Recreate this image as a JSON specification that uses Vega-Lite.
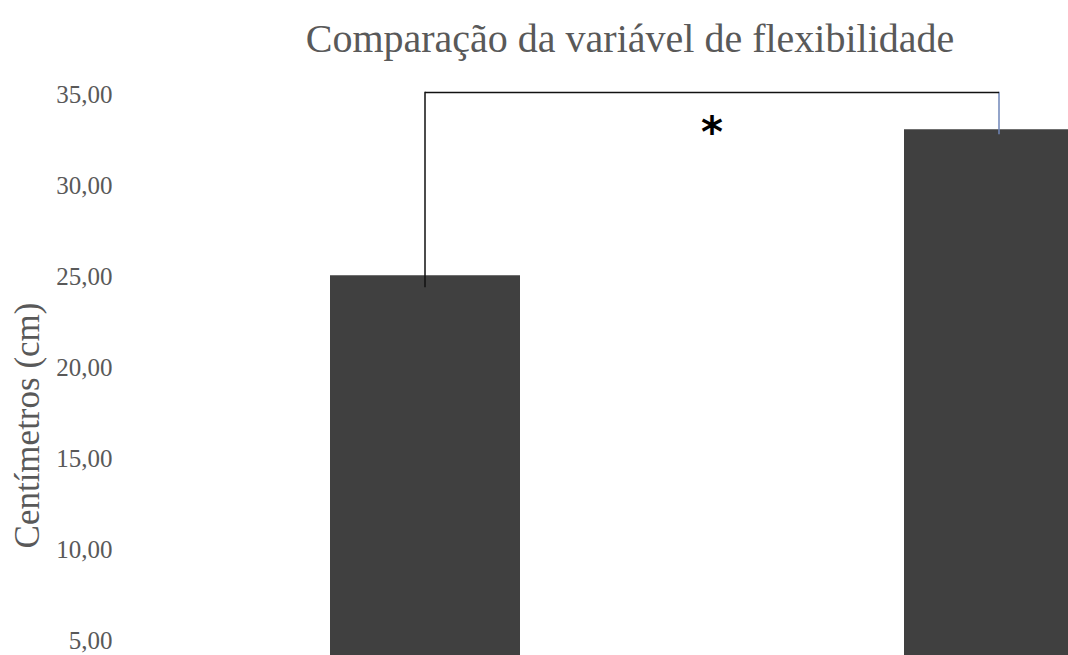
{
  "$schema": "https://vega.github.io/schema/vega-lite/v6.json",
  "width": 930,
  "height": 579,
  "autosize": {"type": "none"},
  "padding": {"left": 138, "top": 76, "right": 0, "bottom": 0},
  "background": "white",
  "config": {"view": {"stroke": null}},
  "title": {
    "text": "Comparação da variável de flexibilidade",
    "font": "Liberation Serif",
    "fontSize": 40,
    "fontWeight": "normal",
    "color": "#595959",
    "anchor": "middle",
    "baseline": "alphabetic",
    "offset": 24,
    "dx": 27,
    "dy": 40
  },
  "datasets": {
    "barras": [
      {"grupo": "Pré", "cm": 25.05},
      {"grupo": "Pós", "cm": 33.08}
    ],
    "colchete": [
      {"grupo": "Pré", "inicio": 24.4, "fim": 35.13},
      {"grupo": "Pós", "inicio": 32.8, "fim": 35.13}
    ],
    "topo": [
      {"de": "Pré", "ate": "Pós", "nivel": 35.1}
    ],
    "marca": [
      {"grupo": "Pré", "nivel": 32.09, "rotulo": "*"}
    ]
  },
  "layer": [
    {
      "data": {"name": "barras"},
      "mark": {"type": "bar", "color": "#404040", "clip": true},
      "encoding": {
        "x": {
          "field": "grupo",
          "type": "nominal",
          "sort": ["Pré", "Pós"],
          "scale": {"domain": ["Pré", "Pós"], "range": [0, 1148], "paddingInner": 0.669, "paddingOuter": 0.3345},
          "axis": null
        },
        "y": {
          "field": "cm",
          "type": "quantitative",
          "scale": {"domain": [4.2, 36], "nice": false, "zero": false},
          "axis": {
            "title": "Centímetros (cm)",
            "values": [5, 10, 15, 20, 25, 30, 35],
            "labelExpr": "replace(format(datum.value, '.2f'), '.', ',')",
            "grid": false,
            "domain": false,
            "ticks": false,
            "tickSize": 0,
            "labelPadding": 26,
            "labelFont": "Liberation Serif",
            "labelFontSize": 25,
            "labelColor": "#595959",
            "titleFont": "Liberation Serif",
            "titleFontSize": 35,
            "titleFontWeight": "normal",
            "titleColor": "#595959",
            "titleX": -111,
            "titleY": 349,
            "titleAlign": "center",
            "titleBaseline": "middle",
            "titleAngle": -90
          }
        }
      }
    },
    {
      "data": {"name": "colchete"},
      "mark": {"type": "rule", "strokeWidth": 1.5},
      "encoding": {
        "x": {"field": "grupo", "type": "nominal"},
        "y": {"field": "inicio", "type": "quantitative"},
        "y2": {"field": "fim"},
        "color": {
          "field": "grupo",
          "type": "nominal",
          "scale": {"domain": ["Pré", "Pós"], "range": ["#111111", "#6f86b8"]},
          "legend": null
        }
      }
    },
    {
      "data": {"name": "topo"},
      "mark": {"type": "rule", "strokeWidth": 1.5, "color": "#111111"},
      "encoding": {
        "x": {"field": "de", "type": "nominal"},
        "x2": {"field": "ate"},
        "y": {"field": "nivel", "type": "quantitative"}
      }
    },
    {
      "data": {"name": "marca"},
      "mark": {"type": "text", "font": "DejaVu Sans", "fontSize": 42, "fontWeight": "bold", "color": "#000000", "baseline": "alphabetic", "align": "center"},
      "encoding": {
        "x": {"field": "grupo", "type": "nominal", "bandPosition": 2.01},
        "y": {"field": "nivel", "type": "quantitative"},
        "text": {"field": "rotulo"}
      }
    }
  ]
}
